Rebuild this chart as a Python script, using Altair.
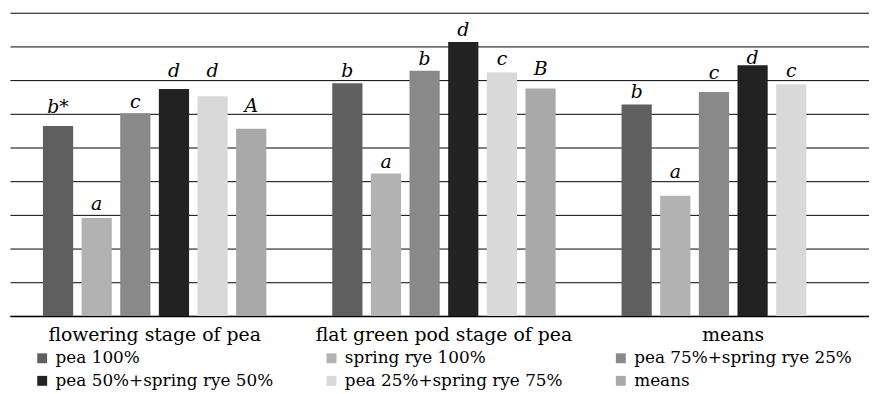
import altair as alt
import pandas as pd

groups = ["flowering stage of pea", "flat green pod stage of pea", "means"]
series = ["pea 100%", "spring rye 100%", "pea 75%+spring rye 25%",
          "pea 50%+spring rye 50%", "pea 25%+spring rye 75%", "means"]
colors = ["#5f5f5f", "#b2b2b2", "#898989", "#222222", "#d9d9d9", "#a9a9a9"]
grid_values = [0, 1, 2, 3, 4, 5, 6, 7, 8, 9]

# bar heights (in grid units)
flowering = [5.64, 2.91, 6.02, 6.74, 6.52, 5.56]
flat_pod = [6.91, 4.23, 7.28, 8.13, 7.23, 6.75]
means = [6.28, 3.57, 6.65, 7.44, 6.88]

# significance letters and the level they sit at (in grid units)
flowering_letters = ["b*", "a", "c", "d", "d", "A"]
flat_pod_letters = ["b", "a", "b", "d", "c", "B"]
means_letters = ["b", "a", "c", "d", "c"]
flowering_levels = [6.02, 3.13, 6.17, 7.10, 7.10, 6.05]
flat_pod_levels = [7.10, 4.39, 7.46, 8.32, 7.45, 7.15]
means_levels = [6.46, 4.09, 7.04, 7.49, 7.10]

rows = []
for g, vals, lets, levs in zip(groups,
                               [flowering, flat_pod, means],
                               [flowering_letters, flat_pod_letters, means_letters],
                               [flowering_levels, flat_pod_levels, means_levels]):
    for s, v, l, lv in zip(series, vals, lets, levs):
        rows.append({"group": g, "series": s, "value": v, "letter": l, "level": lv})
df = pd.DataFrame(rows)

FONT = "DejaVu Serif, serif"

yaxis = alt.Axis(title=None, values=grid_values, labels=False, ticks=False,
                 domain=False, grid=True, gridColor="#000000", gridWidth=1)
yscale = alt.Scale(domain=[0, 9], nice=False)

base = alt.Chart(df).encode(
    x=alt.X("group:N", sort=groups,
            scale=alt.Scale(domain=groups, range=[0, 876], paddingInner=0, paddingOuter=0),
            axis=alt.Axis(title=None, labelAngle=0, ticks=False, labelFont=FONT,
                          labelFontSize=19, labelColor="black", labelPadding=10,
                          domainColor="black", domainWidth=1.5, labelLimit=400, grid=False)),
    xOffset=alt.XOffset("series:N", sort=series,
                        scale=alt.Scale(domain=series, paddingInner=0.218, paddingOuter=0.853)),
)

bars = base.mark_bar().encode(
    y=alt.Y("value:Q", scale=yscale, axis=yaxis),
    color=alt.Color("series:N", sort=series,
                    scale=alt.Scale(domain=series, range=colors),
                    legend=alt.Legend(title=None, orient="none", legendX=24, legendY=340,
                                      columns=3, direction="horizontal", symbolType="square",
                                      symbolSize=100, symbolStrokeWidth=0, labelFont=FONT,
                                      labelFontSize=17, labelColor="black", labelOffset=5,
                                      columnPadding=50, rowPadding=5, gridAlign="all",
                                      padding=0, labelLimit=400)),
)

letters = base.mark_text(font=FONT, fontStyle="italic", fontSize=19, baseline="alphabetic",
                         align="center", color="black").encode(
    y=alt.Y("level:Q", scale=yscale, axis=yaxis),
    text="letter:N",
)

chart = (bars + letters).properties(
    width=867, height=306,
    autosize=alt.AutoSizeParams(type="none"),
    padding={"left": 2, "top": 3, "right": 0, "bottom": 77},
).configure(font=FONT).configure_legend(labelFont=FONT).configure_view(stroke="transparent")

chart.save("out.html", embed_options={"renderer": "svg", "actions": False})
